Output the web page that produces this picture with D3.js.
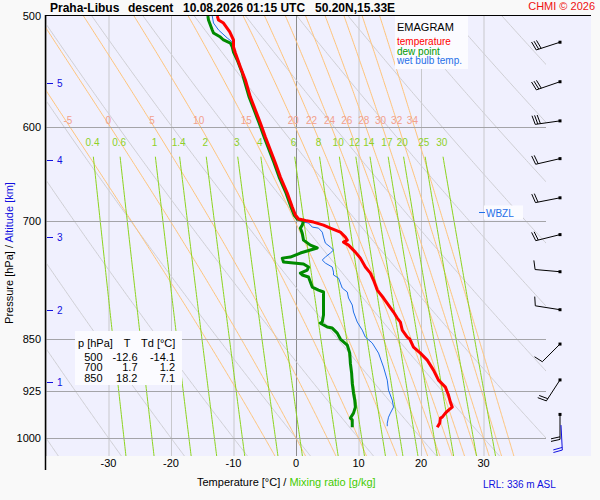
<!DOCTYPE html>
<html>
<head>
<meta charset="utf-8">
<script src="https://cdn.jsdelivr.net/npm/d3@7"></script>
<style>
  body { margin: 0; background: #f9f9f9; }
  svg { display: block; font-family: "Liberation Sans", Arial, sans-serif; }
</style>
</head>
<body>
<div id="chart"></div>
<script>
"use strict";

/* ---- values ---- */
const titleParts = ["Praha-Libus", "descent", "10.08.2026 01:15 UTC", "50.20N,15.33E"];
const pressureTicks = [500, 600, 700, 850, 925, 1000];
const pressureGrid = [600, 700, 850, 925, 1000];
const tempTicks = [-30, -20, -10, 0, 10, 20, 30];
const altitudeKm = [1, 2, 3, 4, 5];
const altitudeP = [912, 810, 719, 633, 558];
const thetaW = [-5, 0, 5, 10, 15, 20, 22, 24, 26, 28, 30, 32, 34];
const mixRatios = [0.4, 0.6, 1, 1.4, 2, 3, 4, 6, 8, 10, 12, 14, 17, 20, 25, 30];
const dryTheta = [-40, -30, -20, -10, 0, 10, 20, 30, 40, 50, 60, 70, 80, 90, 100, 110];

// temperature profile
const tempP = [500, 503.3, 505.8, 513.3, 520.1, 526.1, 531.3, 543.7, 555.4, 571.2, 583.5, 596.1, 610.0,
  623.1, 636.5, 651.4, 668.7, 684.3, 693.3, 697.9, 699.0, 700, 701.4, 704.9, 708.4, 713.1, 718.9, 722.5,
  724.9, 728.5, 736.9, 744.2, 755.2, 762.8, 771.5, 784.3, 794.6, 803.8, 813.1, 821.2, 826.6, 837.6, 847.3,
  850, 861.3, 869.8, 879.9, 894.5, 909.3, 919.8, 932.0, 942.8, 950.5, 955.3, 960.0, 966.4, 967.9, 975.9, 982.4];
const tempT = [-12.6, -12.4, -11.6, -10.6, -10.0, -10.0, -9.7, -8.9, -8.1, -7.3, -6.5, -5.7, -4.9,
  -4.1, -3.3, -2.5, -1.4, -0.6, -0.1, 0.4, 1.2, 1.7, 2.8, 4.4, 5.5, 7.1, 7.9, 8.2,
  7.6, 8.4, 9.5, 10.3, 11.1, 11.9, 12.4, 13.0, 14.0, 14.8, 15.6, 16.2, 16.7, 17.0, 17.8,
  18.2, 18.8, 19.9, 21.0, 22.0, 22.8, 23.9, 24.4, 24.7, 25.0, 24.4, 23.9, 23.4, 23.1, 23.0, 22.6];

// dew point profile
const dewP = [500, 503.3, 511.6, 514.2, 517.6, 520.1, 522.7, 526.1, 530.5, 537.5, 549.1, 555.4, 571.2,
  583.5, 596.1, 610.0, 623.1, 636.5, 651.4, 668.7, 684.3, 693.3, 697.9, 700, 704.9, 708.4, 714.3, 722.5,
  728.5, 731.9, 734.4, 738.0, 742.9, 744.2, 749.0, 750.3, 751.5, 755.2, 758.9, 762.8, 765.1, 767.6, 774.0,
  780.4, 784.3, 786.8, 794.6, 807.8, 817.2, 826.6, 828.0, 833.4, 834.8, 841.7, 850, 858.4, 869.8, 884.4,
  899.0, 913.9, 929.0, 939.7, 950.5, 960.0, 967.9, 970.7, 982.4];
const dewT = [-14.1, -14.0, -13.4, -13.2, -12.1, -11.6, -10.5, -10.2, -10.0, -9.4, -8.6, -8.3, -7.5,
  -6.7, -5.9, -5.1, -4.3, -3.5, -2.7, -1.6, -0.8, -0.3, 0.2, 1.2, 1.0, 0.7, 1.0, 1.2,
  2.3, 3.4, 2.3, 0.7, -0.9, -2.2, -2.0, -0.4, 1.2, 2.0, 1.8, 0.7, 1.0, 2.0, 2.3,
  2.6, 3.6, 4.4, 4.4, 4.4, 4.4, 4.2, 3.9, 5.0, 5.8, 6.6, 7.1, 8.2, 8.6, 8.7,
  8.9, 9.0, 9.2, 9.4, 9.5, 9.2, 8.7, 9.0, 9.0];

// wet bulb profile
const wetP = [500, 505.8, 511.6, 518.4, 521.8, 531.3, 543.7, 555.4, 571.2, 583.5, 596.1, 610.0, 623.1,
  636.5, 651.4, 668.7, 684.3, 693.3, 697.9, 701.4, 702.5, 707.2, 708.4, 713.1, 718.9, 726.1, 730.8, 734.4,
  738.0, 742.9, 746.5, 750.3, 755.2, 761.5, 765.1, 769.0, 775.3, 781.7, 786.8, 794.6, 803.8, 813.1, 826.6,
  837.6, 847.3, 855.6, 869.8, 890.0, 909.3, 924.4, 939.7, 950.5, 960.0, 966.4, 975.9, 980.8];
const wetT = [-13.4, -13.2, -12.4, -11.0, -10.2, -9.9, -9.0, -8.2, -7.4, -6.6, -5.8, -5.0, -4.2,
  -3.4, -2.6, -1.5, -0.7, -0.2, 0.3, 1.2, 2.0, 2.6, 3.6, 4.2, 4.4, 4.7, 5.5, 6.0,
  5.5, 4.7, 4.2, 4.7, 5.8, 6.0, 6.0, 6.8, 7.1, 7.4, 8.2, 8.4, 9.0, 9.2, 9.8,
  10.6, 11.1, 12.2, 13.2, 14.0, 14.6, 14.8, 15.4, 15.6, 15.1, 14.8, 14.6, 14.6];

const wbzlP = 690;

// winds (pressure level, direction deg, speed kt)
const windP = [522, 557, 594, 632, 674, 716, 761, 810, 857, 909, 962];
const windDir = [252, 251, 262, 257, 259, 256, 275, 279, 225, 213, 180];
const windKt = [30, 30, 30, 20, 20, 20, 10, 10, 10, 20, 20];
const surfaceWindP = 979, surfaceWindDir = 177, surfaceWindKt = 20;

const tableHead = ["p [hPa]", "T", "Td [°C]"];
const tableRows = [["500", "-12.6", "-14.1"], ["700", "1.7", "1.2"], ["850", "18.2", "7.1"]];

/* ---- layout ---- */
const W = 600, H = 500;
const box = { left: 46, right: 546, top: 16, bottom: 456, panelRight: 591 };

const x = d3.scaleLinear().domain([-40, 40]).range([box.left, box.right]);
const y = d3.scaleLog().domain([500, 1030]).range([box.top, box.bottom]);

const svg = d3.select("#chart").append("svg")
  .attr("width", W)
  .attr("height", H);

svg.append("rect").attr("width", W).attr("height", H).attr("fill", "#f9f9f9");
svg.append("rect")
  .attr("x", box.left).attr("y", box.top)
  .attr("width", box.panelRight - box.left)
  .attr("height", box.bottom - box.top)
  .attr("fill", "#f0f0fe");

svg.append("clipPath").attr("id", "clip")
  .append("rect")
  .attr("x", box.left).attr("y", box.top)
  .attr("width", box.right - box.left)
  .attr("height", box.bottom - box.top);

const grid = svg.append("g").attr("clip-path", "url(#clip)");

const line = d3.line().x(d => x(d[1])).y(d => y(d[0]));

/* thermodynamic helpers for the background lines */
function satVap(tc) { return 6.112 * Math.exp(17.67 * tc / (tc + 243.5)); }

function moistRate(p, T) {
  const es = satVap(T - 273.15);
  const rs = 0.622 * es / (p - es);
  const Lv = 2.501e6;
  const num = 287.04 * T + Lv * rs;
  const den = 1005.7 + (Lv * Lv * rs * 0.622) / (287.04 * T * T);
  return num / den / p;
}

function rkStep(p, T, dp) {
  const k1 = moistRate(p, T);
  const k2 = moistRate(p + dp / 2, T + k1 * dp / 2);
  const k3 = moistRate(p + dp / 2, T + k2 * dp / 2);
  const k4 = moistRate(p + dp, T + k3 * dp);
  return T + dp * (k1 + 2 * k2 + 2 * k3 + k4) / 6;
}

function moistAdiabat(tw) {
  let T = tw + 273.15;
  const up = [[1000, T]];
  for (let p = 1000; p > 500; p -= 2) { T = rkStep(p, T, -2); up.push([p - 2, T]); }
  T = tw + 273.15;
  const down = [];
  for (let p = 1000; p < 1030; p += 2) { T = rkStep(p, T, 2); down.push([p + 2, T]); }
  return up.reverse().concat(down).map(d => [d[0], d[1] - 273.15]);
}

function mixTemp(w, p) {
  const e = w * p / (622 + w);
  const a = Math.log(e / 6.112);
  return 243.5 * a / (17.67 - a);
}

function tempAt(pts, p) {
  for (let i = 1; i < pts.length; i++) {
    if (pts[i][0] >= p && pts[i - 1][0] <= p) {
      const f = (p - pts[i - 1][0]) / (pts[i][0] - pts[i - 1][0]);
      return pts[i - 1][1] + f * (pts[i][1] - pts[i - 1][1]);
    }
  }
  return NaN;
}

const pSteps = d3.range(500, 1031, 2);

// isotherms
grid.selectAll(".iso")
  .data(d3.range(-40, 41, 10))
  .enter().append("line")
  .attr("x1", d => x(d) + 0.5).attr("x2", d => x(d) + 0.5)
  .attr("y1", box.top).attr("y2", box.bottom)
  .attr("stroke", d => d === 0 ? "#8c8c8c" : "#c8c8cc")
  .attr("stroke-width", 1);

// dry adiabats
grid.selectAll(".dry")
  .data(dryTheta)
  .enter().append("path")
  .attr("fill", "none")
  .attr("stroke", "#cfcfd4")
  .attr("stroke-width", 1)
  .attr("d", th => line(pSteps.map(p => [p, (th + 273.15) * Math.pow(p / 1000, 0.2857) - 273.15])));

// saturated adiabats
const moistLines = thetaW.map(moistAdiabat);
grid.selectAll(".moist")
  .data(moistLines)
  .enter().append("path")
  .attr("fill", "none")
  .attr("stroke", "#ffc47a")
  .attr("stroke-width", 1)
  .attr("d", line);

// mixing ratio lines
grid.selectAll(".mix")
  .data(mixRatios)
  .enter().append("path")
  .attr("fill", "none")
  .attr("stroke", "#8cd41e")
  .attr("stroke-width", 1)
  .attr("d", w => line(d3.range(630, 1031, 4).map(p => [p, mixTemp(w, p)])));

// pressure grid
grid.selectAll(".pgrid")
  .data(pressureGrid)
  .enter().append("line")
  .attr("x1", box.left).attr("x2", box.right)
  .attr("y1", d => Math.round(y(d)) + 0.5).attr("y2", d => Math.round(y(d)) + 0.5)
  .attr("stroke", "#a4a4a8")
  .attr("stroke-width", 1);

// labels of saturated adiabats
svg.selectAll(".thwLab")
  .data(thetaW)
  .enter().append("text")
  .attr("x", (d, i) => x(tempAt(moistLines[i], 600)) - 2)
  .attr("y", 123.5)
  .attr("text-anchor", "middle")
  .attr("font-size", 10)
  .attr("fill", "#f2a08c")
  .text(d => d);

// labels of mixing ratio lines
svg.selectAll(".mixLab")
  .data(mixRatios)
  .enter().append("text")
  .attr("x", w => x(mixTemp(w, 622)))
  .attr("y", 146)
  .attr("text-anchor", "middle")
  .attr("font-size", 10)
  .attr("fill", "#8ed028")
  .text(d => d);

/* ---- sounding ---- */
const zip = (ps, ts) => ps.map((p, i) => [p, ts[i]]);
const prof = svg.append("g").attr("clip-path", "url(#clip)");

prof.append("path")
  .attr("d", line(zip(wetP, wetT)))
  .attr("fill", "none").attr("stroke", "#1f6fe8").attr("stroke-width", 1);
prof.append("path")
  .attr("d", line(zip(dewP, dewT)))
  .attr("fill", "none").attr("stroke", "#008a00").attr("stroke-width", 3)
  .attr("stroke-linejoin", "round");
prof.append("path")
  .attr("d", line(zip(tempP, tempT)))
  .attr("fill", "none").attr("stroke", "#ff0000").attr("stroke-width", 3)
  .attr("stroke-linejoin", "round");

/* ---- WBZL marker ---- */
const yW = Math.round(y(wbzlP)) + 0.5;
svg.append("rect").attr("x", 484).attr("y", yW - 7).attr("width", 39).attr("height", 14)
  .attr("fill", "#fbfbff");
svg.append("line").attr("x1", 479).attr("x2", 485).attr("y1", yW).attr("y2", yW)
  .attr("stroke", "#1f6fe8");
svg.append("text").attr("x", 486).attr("y", yW + 4)
  .attr("font-size", 10).attr("fill", "#1f6fe8").text("WBZL");

/* ---- legend ---- */
const leg = svg.append("g");
leg.append("rect").attr("x", 395).attr("y", 16).attr("width", 73).attr("height", 53)
  .attr("fill", "#fbfbff");
leg.append("text").attr("x", 397).attr("y", 31).attr("font-size", 11).attr("fill", "#000").text("EMAGRAM");
const legendItems = [["temperature", "#ff0000"], ["dew point", "#009900"], ["wet bulb temp.", "#1f6fe8"]];
leg.selectAll(".li")
  .data(legendItems)
  .enter().append("text")
  .attr("x", 397)
  .attr("y", (d, i) => 45 + i * 9.5)
  .attr("font-size", 10)
  .attr("fill", d => d[1])
  .text(d => d[0]);

/* ---- table ---- */
const tab = svg.append("g");
tab.append("rect").attr("x", 75).attr("y", 331).attr("width", 107).attr("height", 54)
  .attr("fill", "#fbfbff");
const headX = [78, 127, 141];
const headAnchor = ["start", "middle", "start"];
tab.selectAll(".th")
  .data(tableHead)
  .enter().append("text")
  .attr("x", (d, i) => headX[i])
  .attr("y", 347)
  .attr("text-anchor", (d, i) => headAnchor[i])
  .attr("font-size", 11)
  .text(d => d);
const colX = [102.5, 137.5, 175];
tableRows.forEach((row, r) => {
  tab.selectAll(".r" + r)
    .data(row)
    .enter().append("text")
    .attr("x", (d, i) => colX[i])
    .attr("y", 360.5 + r * 10.7)
    .attr("text-anchor", "end")
    .attr("font-size", 11)
    .text(d => d);
});

/* ---- wind barbs ---- */
function drawBarb(g, cx, cy, dir, kt, color, withDot) {
  const r = dir * Math.PI / 180;
  const u = [Math.sin(r), -Math.cos(r)];
  const perp = [-u[1], u[0]];
  const L = 25;
  const tail = [cx + u[0] * L, cy + u[1] * L];
  g.append("line")
    .attr("x1", cx).attr("y1", cy).attr("x2", tail[0]).attr("y2", tail[1])
    .attr("stroke", color).attr("stroke-width", 1);
  const full = Math.floor(kt / 10);
  const half = kt % 10 >= 5 ? 1 : 0;
  for (let i = 0; i < full + half; i++) {
    const bx = tail[0] - u[0] * i * 2.6, by = tail[1] - u[1] * i * 2.6;
    const len = i < full ? 9 : 5;
    g.append("line")
      .attr("x1", bx).attr("y1", by)
      .attr("x2", bx + perp[0] * len + u[0] * 2).attr("y2", by + perp[1] * len + u[1] * 2)
      .attr("stroke", color).attr("stroke-width", 1);
  }
  if (withDot) {
    g.append("rect").attr("x", cx - 1.5).attr("y", cy - 1.5).attr("width", 3).attr("height", 3)
      .attr("fill", color);
  }
}
const barbs = svg.append("g");
windP.forEach((p, i) => drawBarb(barbs, 560, y(p), windDir[i], windKt[i], "#000", true));
drawBarb(barbs, 561, y(surfaceWindP), surfaceWindDir, surfaceWindKt, "#1010e0", false);

/* ---- frame ---- */
svg.append("line").attr("x1", box.left).attr("x2", box.panelRight).attr("y1", 15.5).attr("y2", 15.5)
  .attr("stroke", "#000").attr("stroke-width", 1.2);
svg.append("line").attr("x1", 45.5).attr("x2", 45.5).attr("y1", 15).attr("y2", 470)
  .attr("stroke", "#000").attr("stroke-width", 1.5);

/* ---- axes text ---- */
svg.selectAll(".pl")
  .data(pressureTicks)
  .enter().append("text")
  .attr("x", 41)
  .attr("y", d => y(d) + 4)
  .attr("text-anchor", "end")
  .attr("font-size", 11)
  .text(d => d);

svg.selectAll(".tl")
  .data(tempTicks)
  .enter().append("text")
  .attr("x", d => x(d))
  .attr("y", 467)
  .attr("text-anchor", "middle")
  .attr("font-size", 11)
  .text(d => d);

const alt = svg.append("g");
altitudeKm.forEach((km, i) => {
  const yy = Math.round(y(altitudeP[i])) + 0.5;
  alt.append("line").attr("x1", 47).attr("x2", 53).attr("y1", yy).attr("y2", yy)
    .attr("stroke", "#1010e0").attr("stroke-width", 1);
  alt.append("text").attr("x", 57).attr("y", yy + 3.5)
    .attr("font-size", 10).attr("fill", "#1010e0").text(km);
});

const ylab = svg.append("text")
  .attr("transform", "translate(13,253) rotate(-90)")
  .attr("text-anchor", "middle")
  .attr("font-size", 11);
ylab.append("tspan").attr("fill", "#000").text("Pressure [hPa]  /  ");
ylab.append("tspan").attr("fill", "#1010e0").text("Altitude [km]");

const xlab = svg.append("text")
  .attr("x", 197).attr("y", 486)
  .attr("font-size", 11);
xlab.append("tspan").attr("fill", "#000").text("Temperature [°C]  /  ");
xlab.append("tspan").attr("fill", "#44cc00").text("Mixing ratio [g/kg]");

svg.append("text").attr("x", 483).attr("y", 488)
  .attr("font-size", 10).attr("fill", "#1010e0").text("LRL: 336 m ASL");

/* ---- title ---- */
const titleX = [50, 128, 183, 315];
svg.selectAll(".title")
  .data(titleParts)
  .enter().append("text")
  .attr("x", (d, i) => titleX[i])
  .attr("y", 12)
  .attr("font-size", 12)
  .attr("font-weight", "bold")
  .text(d => d);

svg.append("text").attr("x", 595).attr("y", 10)
  .attr("text-anchor", "end")
  .attr("font-size", 11).attr("fill", "#ee1111").text("CHMI © 2026");
</script>
</body>
</html>
